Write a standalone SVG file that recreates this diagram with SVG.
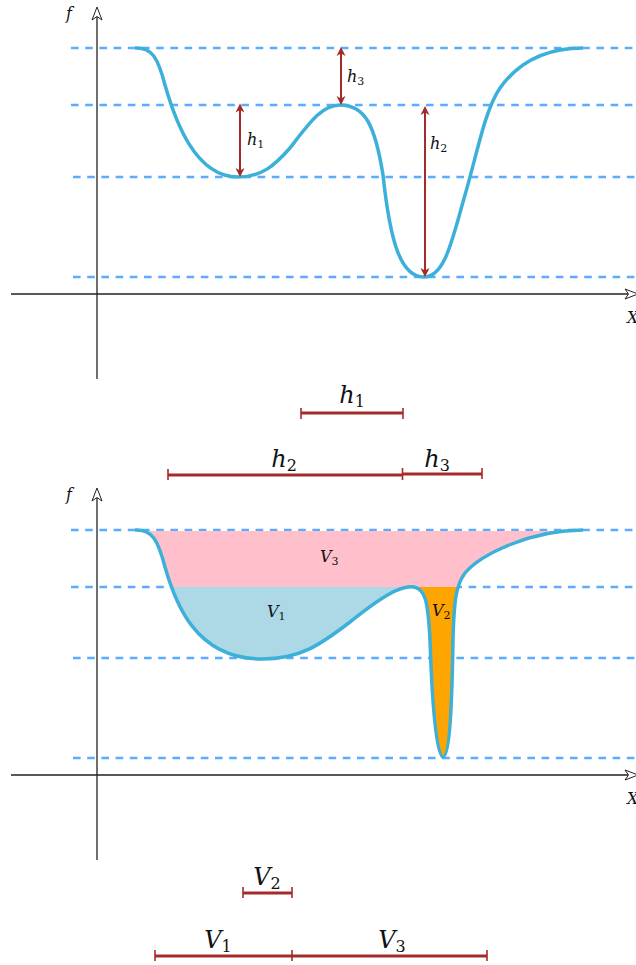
<svg xmlns="http://www.w3.org/2000/svg" width="636" height="965" viewBox="0 0 636 965">
<style>
.axis{stroke:#222;stroke-width:1.3;fill:none}
.ahead{fill:#fff;stroke:#222;stroke-width:1}
.dash{stroke:#5aacff;stroke-width:2.4;stroke-dasharray:7.6 6.6;fill:none}
.curve{stroke:#3cb0d8;stroke-width:3.5;fill:none;stroke-linejoin:round}
.red{stroke:#a52a2a;stroke-width:2;fill:none}
.bar{stroke:#a52a2a;stroke-width:3;fill:none}
.tick{stroke:#a52a2a;stroke-width:1.6;fill:none}
</style>
<defs>
<marker id="rh" viewBox="-4 -5 11 10" refX="0" refY="0" markerWidth="11" markerHeight="10" markerUnits="userSpaceOnUse" orient="auto-start-reverse">
<path d="M6,0 L-3,-4.5 L-0.5,0 L-3,4.5 Z" fill="#a52a2a"/>
</marker>
<clipPath id="basin">
<path d="M135,530 C152,529 158,540 165,567 C175,602 195,659 262,659 C300,659 320,645 350,622 C380,598 400,585 414,587 C425,589 428,600 430,640 C432,700 436,757 443,757 C450,757 452,700 453,640 C454,600 456,585 465,573 C480,555 530,530 583,530 Z"/>
</clipPath>
</defs>

<g id="top-plot">
<line class="dash" x1="71" y1="48" x2="636" y2="48"/>
<line class="dash" x1="71" y1="105" x2="636" y2="105"/>
<line class="dash" x1="73" y1="177" x2="636" y2="177"/>
<line class="dash" x1="73" y1="277" x2="636" y2="277"/>
<line class="axis" x1="97" y1="379" x2="97" y2="17"/>
<path class="ahead" d="M97,7 L102,20 L97,16.5 L92,20 Z"/>
<line class="axis" x1="11" y1="294" x2="628" y2="294"/>
<path class="ahead" d="M638,294 L625,289 L628.5,294 L625,299 Z"/>
<text font-family="'DejaVu Serif', 'Liberation Serif', serif" font-style="italic" font-size="16" fill="#111" x="66" y="19">f</text>
<text font-family="'DejaVu Serif', 'Liberation Serif', serif" font-style="italic" font-size="16" fill="#111" x="627" y="323">X</text>
<path class="curve" d="M135,48 C152,47 158,58 165,85 C175,120 195,177 238,177 C262,177 275,165 290,148 C310,122 322,105 340,105 C365,105 375,125 383,175 C390,240 400,277 424,277 C445,277 452,240 465,195 C478,150 485,110 500,88 C520,60 550,48 583,48"/>
</g>

<g id="connectors">
<line class="red" x1="240" y1="109.5" x2="240" y2="171" marker-start="url(#rh)" marker-end="url(#rh)"/>
<line class="red" x1="341" y1="53" x2="341" y2="99" marker-start="url(#rh)" marker-end="url(#rh)"/>
<line class="red" x1="425" y1="112" x2="425" y2="271" marker-start="url(#rh)" marker-end="url(#rh)"/>
</g>

<g id="top-labels" font-family="'DejaVu Serif', 'Liberation Serif', serif" font-size="16" fill="#111">
<text x="247" y="145"><tspan font-style="italic">h</tspan><tspan font-size="11" dy="3">1</tspan></text>
<text x="347" y="82"><tspan font-style="italic">h</tspan><tspan font-size="11" dy="3">3</tspan></text>
<text x="430" y="149"><tspan font-style="italic">h</tspan><tspan font-size="11" dy="3">2</tspan></text>
</g>

<g id="h-bars" font-family="'DejaVu Serif', 'Liberation Serif', serif" font-size="24" fill="#111">
<line class="bar" x1="301" y1="413" x2="403" y2="413"/>
<line class="tick" x1="301" y1="408" x2="301" y2="419"/>
<line class="tick" x1="403" y1="408" x2="403" y2="419"/>
<text x="352" y="403" text-anchor="middle"><tspan font-style="italic">h</tspan><tspan font-size="16" dy="4">1</tspan></text>
<line class="bar" x1="168" y1="475" x2="402" y2="475"/>
<line class="bar" x1="403" y1="474" x2="482" y2="474"/>
<line class="tick" x1="168" y1="469" x2="168" y2="480"/>
<line class="tick" x1="402.5" y1="468" x2="402.5" y2="480"/>
<line class="tick" x1="482" y1="468" x2="482" y2="479"/>
<text x="284" y="467" text-anchor="middle"><tspan font-style="italic">h</tspan><tspan font-size="16" dy="4">2</tspan></text>
<text x="437" y="467" text-anchor="middle"><tspan font-style="italic">h</tspan><tspan font-size="16" dy="4">3</tspan></text>
</g>

<g id="bottom-plot">
<line class="dash" x1="71" y1="530" x2="636" y2="530"/>
<line class="dash" x1="71" y1="587" x2="636" y2="587"/>
<line class="dash" x1="73" y1="658" x2="636" y2="658"/>
<line class="dash" x1="73" y1="758" x2="636" y2="758"/>
<g clip-path="url(#basin)">
<rect x="0" y="531" width="636" height="56" fill="#ffc0cb"/>
<rect x="0" y="587" width="419" height="180" fill="#add8e6"/>
<rect x="419" y="587" width="217" height="180" fill="#ffa500"/>
</g>
<line class="axis" x1="97" y1="860" x2="97" y2="498"/>
<path class="ahead" d="M97,488 L102,501 L97,497.5 L92,501 Z"/>
<line class="axis" x1="11" y1="775" x2="628" y2="775"/>
<path class="ahead" d="M638,775 L625,770 L628.5,775 L625,780 Z"/>
<text font-family="'DejaVu Serif', 'Liberation Serif', serif" font-style="italic" font-size="16" fill="#111" x="66" y="500">f</text>
<text font-family="'DejaVu Serif', 'Liberation Serif', serif" font-style="italic" font-size="16" fill="#111" x="627" y="804">X</text>
<path class="curve" d="M135,530 C152,529 158,540 165,567 C175,602 195,659 262,659 C300,659 320,645 350,622 C380,598 400,585 414,587 C425,589 428,600 430,640 C432,700 436,757 443,757 C450,757 452,700 453,640 C454,600 456,585 465,573 C480,555 530,530 583,530"/>
<g font-family="'DejaVu Serif', 'Liberation Serif', serif" font-size="16" fill="#111">
<text x="320" y="562"><tspan font-style="italic">V</tspan><tspan font-size="11" dy="3">3</tspan></text>
<text x="267" y="617"><tspan font-style="italic">V</tspan><tspan font-size="11" dy="3">1</tspan></text>
<text x="432" y="616"><tspan font-style="italic">V</tspan><tspan font-size="11" dy="3">2</tspan></text>
</g>
</g>

<g id="v-bars" font-family="'DejaVu Serif', 'Liberation Serif', serif" font-size="24" fill="#111">
<line class="bar" x1="243" y1="893" x2="292" y2="893"/>
<line class="tick" x1="243" y1="887" x2="243" y2="898"/>
<line class="tick" x1="292" y1="887" x2="292" y2="898"/>
<text x="267" y="885" text-anchor="middle"><tspan font-style="italic">V</tspan><tspan font-size="16" dy="4">2</tspan></text>
<line class="bar" x1="155" y1="956" x2="292" y2="956"/>
<line class="bar" x1="292" y1="956" x2="487" y2="956"/>
<line class="tick" x1="155" y1="950" x2="155" y2="961"/>
<line class="tick" x1="292" y1="950" x2="292" y2="961"/>
<line class="tick" x1="487" y1="950" x2="487" y2="961"/>
<text x="218" y="948" text-anchor="middle"><tspan font-style="italic">V</tspan><tspan font-size="16" dy="4">1</tspan></text>
<text x="392" y="948" text-anchor="middle"><tspan font-style="italic">V</tspan><tspan font-size="16" dy="4">3</tspan></text>
</g>
</svg>
